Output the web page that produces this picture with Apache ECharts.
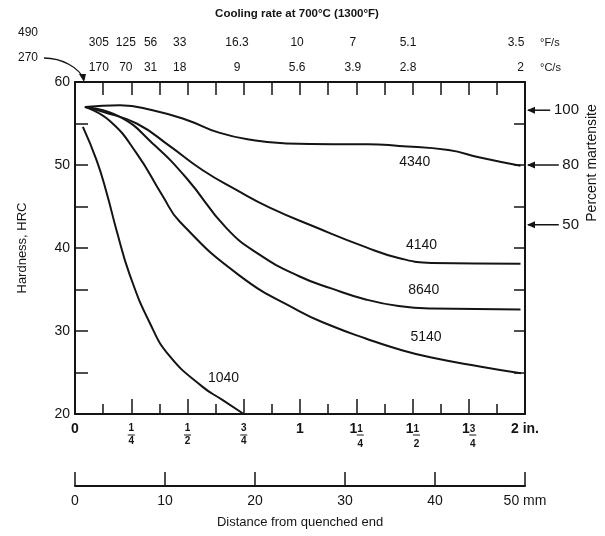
<!DOCTYPE html>
<html><head><meta charset="utf-8">
<script src="https://cdn.jsdelivr.net/npm/echarts@6/dist/echarts.min.js"></script>
<style>html,body{margin:0;padding:0;background:#fff}#c{width:605px;height:536px}</style>
</head><body><div id="c"></div>
<script>
// ---- data (distance in inches, hardness HRC) ----
const s4340 = [[0.044,57.0],[0.2,57.2],[0.345,56.6],[0.5,55.4],[0.64,53.9],[0.79,53.0],[0.94,52.6],[1.15,52.5],[1.3,52.5],[1.44,52.3],[1.66,51.8],[1.8,50.9],[1.98,49.9]];
const s4140 = [[0.044,57.0],[0.124,56.4],[0.274,55.0],[0.42,52.3],[0.566,49.4],[0.717,47.0],[0.863,44.9],[1.07,42.5],[1.292,40.1],[1.438,38.8],[1.584,38.2],[1.98,38.1]];
const s8640 = [[0.044,57.0],[0.2,55.8],[0.345,52.6],[0.496,48.4],[0.673,42.4],[0.82,39.2],[0.996,36.6],[1.142,35.1],[1.292,33.8],[1.438,33.0],[1.584,32.7],[1.98,32.6]];
const s5140 = [[0.044,57.0],[0.155,55.3],[0.274,51.4],[0.389,46.3],[0.465,43.2],[0.73,36.7],[0.996,32.4],[1.142,30.6],[1.292,29.1],[1.438,27.8],[1.584,26.8],[1.805,25.7],[1.982,24.9]];
const s1040 = [[0.035,54.6],[0.097,50.5],[0.142,46.5],[0.186,42.0],[0.243,36.8],[0.332,31.0],[0.42,27.0],[0.566,23.3],[0.655,21.7],[0.75,20.0]];
const steelNames = ['4340','4140','8640','5140','1040'];
const labelPos = [[1.51,50.4],[1.54,40.4],[1.55,34.9],[1.56,29.3],[0.66,24.3]];
// cooling rates at 700°C (top scale)
const rateF = ['305','125','56','33','16.3','10','7','5.1','3.5'];
const rateC = ['170','70','31','18','9','5.6','3.9','2.8','2'];
const ratePosF = [0.106,0.226,0.336,0.465,0.72,0.987,1.235,1.48,1.96];
const ratePosC = [0.106,0.226,0.336,0.465,0.72,0.987,1.235,1.48,1.98];
// percent martensite markers (right)
const martPct = ['100','80','50'];
const martHRC = [56.6,50.0,42.8];
// tick labels
const inchLabels = {0:'{w|0}',0.25:'{n|1}\n{d|4}',0.5:'{n|1}\n{d|2}',0.75:'{n|3}\n{d|4}',1:'{w|1}',1.25:'{w|1}{n|1}\n{sp| }{d|4}',1.5:'{w|1}{n|1}\n{sp| }{d|2}',1.75:'{w|1}{n|3}\n{sp| }{d|4}',2:'{w|2 in.}'};
const fracTicks = [0.25,0.5,0.75];
const mixedTicks = [1.25,1.5,1.75];

const FONT = '"Liberation Sans", Arial, sans-serif';
const INK = '#141414';
const chart = echarts.init(document.getElementById('c'), null, {renderer:'canvas'});

const curveData = [s4340, s4140, s8640, s5140, s1040];
const series = curveData.map((d, i) => ({
  type:'line', name: steelNames[i], data: d, xAxisIndex:0, yAxisIndex:0,
  symbol:'none', smooth:0.5, silent:true,
  lineStyle:{color:INK, width:2}
}));
series.push({
  type:'scatter', xAxisIndex:0, yAxisIndex:0, symbolSize:1, silent:true,
  itemStyle:{color:'rgba(0,0,0,0)'},
  data: labelPos.map((p, i) => ({value:p, name: steelNames[i]})),
  label:{show:true, position:'inside', formatter:p=>p.name, color:INK, fontSize:14, fontFamily:FONT, textBorderWidth:0, opacity:1}
});

const tickStyle = {color:INK, width:1.5};
const option = {
  animation:false,
  grid:{left:75, right:80, top:82, bottom:122, containLabel:false, outerBoundsMode:'none'},
  xAxis:[
    {type:'value', position:'bottom', min:0, max:2, interval:0.25,
     axisLine:{show:true, onZero:false, lineStyle:{color:INK, width:2}},
     axisTick:{show:true, inside:true, length:15, lineStyle:tickStyle},
     minorTick:{show:true, splitNumber:2, length:10, lineStyle:tickStyle},
     splitLine:{show:false},
     axisLabel:{margin:8, fontFamily:FONT, color:INK,
       formatter:v=>inchLabels[v] ?? '',
       rich:{
         w:{fontSize:14, fontFamily:FONT, color:INK, lineHeight:15, fontWeight:'bold'},
         n:{fontSize:10, fontFamily:FONT, color:INK, lineHeight:13, fontWeight:'bold'},
         d:{fontSize:10, fontFamily:FONT, color:INK, lineHeight:13, fontWeight:'bold'},
         sp:{fontSize:14, width:8, fontFamily:FONT}
       }}},
    {type:'value', position:'top', min:0, max:2, interval:0.125,
     axisLine:{show:true, onZero:false, lineStyle:{color:INK, width:2}},
     axisTick:{show:true, inside:true, length:13, lineStyle:tickStyle},
     axisLabel:{show:false}, splitLine:{show:false}},
    {type:'value', position:'bottom', offset:72, min:0, max:50, interval:10,
     axisLine:{show:true, onZero:false, lineStyle:{color:INK, width:2}},
     axisTick:{show:true, inside:true, length:14, lineStyle:tickStyle},
     splitLine:{show:false},
     axisLabel:{margin:8, fontSize:14, fontFamily:FONT, color:INK, formatter:v=> v===50 ? '50 mm' : String(v)},
     name:'Distance from quenched end', nameLocation:'middle', nameGap:30,
     nameTextStyle:{fontSize:13, fontFamily:FONT, color:INK}}
  ],
  yAxis:[
    {type:'value', position:'left', min:20, max:60, interval:5,
     axisLine:{show:true, onZero:false, lineStyle:{color:INK, width:2}},
     axisTick:{show:true, inside:true, length:13, lineStyle:tickStyle},
     splitLine:{show:false},
     axisLabel:{margin:5, fontSize:14, fontFamily:FONT, color:INK, formatter:v=> v%10===0 ? String(v) : ''},
     name:'Hardness, HRC', nameLocation:'middle', nameGap:46, nameRotate:90,
     nameTextStyle:{fontSize:13, fontFamily:FONT, color:INK}},
    {type:'value', position:'right', min:20, max:60, interval:5,
     axisLine:{show:true, onZero:false, lineStyle:{color:INK, width:2}},
     axisTick:{show:true, inside:true, length:11, lineStyle:tickStyle},
     splitLine:{show:false}, axisLabel:{show:false}}
  ],
  series
};
chart.setOption(option);

// annotations positioned through the axes' scales
const px = v => chart.convertToPixel({xAxisIndex:0}, v);
const py = v => chart.convertToPixel({yAxisIndex:0}, v);
const g = [];
const txt = (x, y, s, opts={}) => g.push({type:'text', x, y, silent:true, style:Object.assign({text:s, fill:INK, font:`${opts.size||12}px ${FONT}`, align:opts.align||'center', verticalAlign:'middle'}, opts.extra||{}), rotation:opts.rot||0});
txt(297, 14, 'Cooling rate at 700°C (1300°F)', {size:11.5, extra:{font:`bold 11.5px ${FONT}`}});
txt(28, 33, '490', {size:12});
txt(28, 58, '270', {size:12});
rateF.forEach((s,i)=>txt(px(ratePosF[i]), 43, s, {size:12}));
rateC.forEach((s,i)=>txt(px(ratePosC[i]), 68, s, {size:12}));
txt(px(2)+15, 43, '°F/s', {size:11, align:'left'});
txt(px(2)+15, 68, '°C/s', {size:11, align:'left'});
// 270 arrow
const ax = px(0.04), ay = py(60);
g.push({type:'bezierCurve', silent:true, shape:{x1:44, y1:58, x2:ax, y2:ay-2, cpx1:62, cpy1:58, cpx2:ax-4, cpy2:ay-14}, style:{stroke:INK, lineWidth:1.3, fill:null}});
g.push({type:'polygon', silent:true, shape:{points:[[ax,ay],[ax-5,ay-8],[ax+2,ay-8]]}, style:{fill:INK}});
// fraction bars under the inch tick labels
const by = py(20) + 21;
fracTicks.forEach(v=>{ const x = px(v); g.push({type:'line', silent:true, shape:{x1:x-3.5, y1:by, x2:x+3.5, y2:by}, style:{stroke:INK, lineWidth:1}}); });
mixedTicks.forEach(v=>{ const x = px(v)+4; g.push({type:'line', silent:true, shape:{x1:x-3.5, y1:by, x2:x+3.5, y2:by}, style:{stroke:INK, lineWidth:1}}); });
// percent martensite arrows
const rx = px(2);
martPct.forEach((s,i)=>{
  const y = py(martHRC[i]);
  const tEnd = 579, tw = s.length*8.6;
  const xStart = tEnd - tw - 3;
  g.push({type:'line', silent:true, shape:{x1:rx+3, y1:y, x2:xStart, y2:y}, style:{stroke:INK, lineWidth:1.5}});
  g.push({type:'polygon', silent:true, shape:{points:[[rx+2,y],[rx+10,y-3.5],[rx+10,y+3.5]]}, style:{fill:INK}});
  txt(tEnd, y, s, {size:15, align:'right'});
});
txt(592, 163, 'Percent martensite', {size:14, rot:Math.PI/2});
chart.setOption({graphic:g});
</script>
</body></html>
